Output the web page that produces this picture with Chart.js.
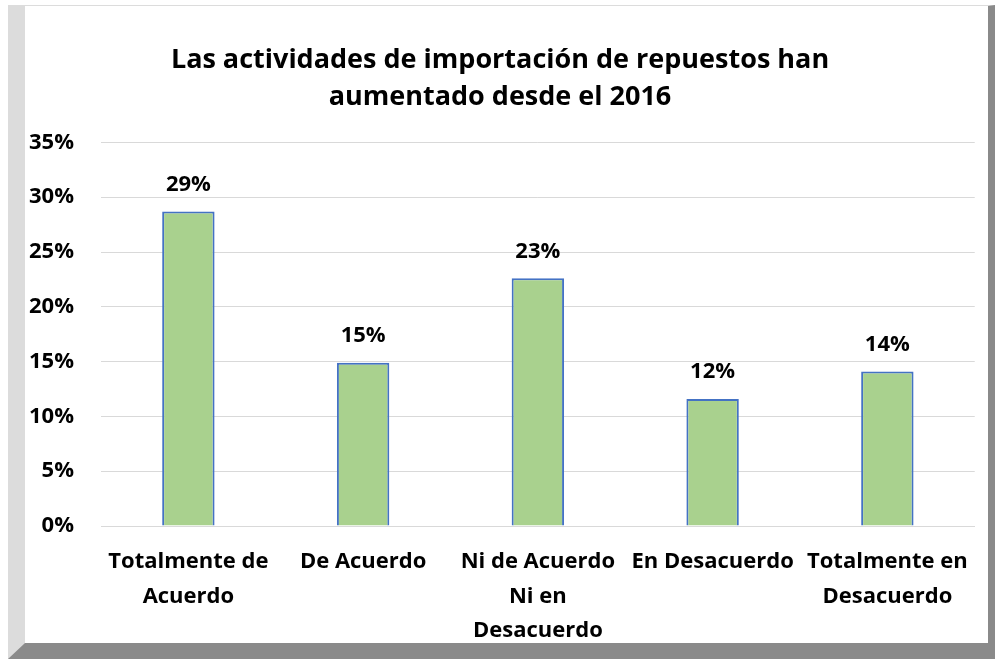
<!DOCTYPE html>
<html>
<head>
<meta charset="utf-8">
<script src="https://cdn.jsdelivr.net/npm/chart.js@4"></script>
<style>
  html, body { margin: 0; padding: 0; background: #fff; }
  .frame {
    position: absolute;
    left: 8px; top: 5px;
    width: 963px; height: 637px;
    border-top: 1px solid #dcdcdc;
    border-left: 17px solid #dcdcdc;
    border-right: 7px solid #8a8a8a;
    border-bottom: 16px solid #8a8a8a;
  }
  canvas { display: block; }
</style>
</head>
<body>
<div class="frame"><canvas id="chart" width="963" height="637"></canvas></div>
<script>
const categories = [
  ['Totalmente de', 'Acuerdo'],
  ['De Acuerdo'],
  ['Ni de Acuerdo', 'Ni en', 'Desacuerdo'],
  ['En Desacuerdo'],
  ['Totalmente en', 'Desacuerdo']
];
const percentages = [28.7, 14.9, 22.6, 11.6, 14.1];
const titleLines = ['Las actividades de importación de repuestos han', 'aumentado desde el 2016'];

const FONT = '"Open Sans", Lato, sans-serif';

// value labels above each bar
const valueLabels = {
  id: 'valueLabels',
  afterDatasetsDraw(chart) {
    const ctx = chart.ctx;
    const meta = chart.getDatasetMeta(0);
    ctx.save();
    ctx.font = 'bold 22px ' + FONT;
    ctx.fillStyle = '#000';
    ctx.textAlign = 'center';
    ctx.textBaseline = 'middle';
    meta.data.forEach((bar, i) => {
      ctx.fillText(Math.round(percentages[i]) + '%', bar.x, bar.y - 27);
    });
    ctx.restore();
  }
};

const chart = new Chart(document.getElementById('chart'), {
  type: 'bar',
  data: {
    labels: categories,
    datasets: [{
      data: percentages,
      backgroundColor: '#a9d18e',
      borderColor: '#4472c4',
      borderWidth: 2,
      barPercentage: 0.6,
      categoryPercentage: 0.5
    }]
  },
  options: {
    responsive: false,
    animation: false,
    layout: { padding: { left: 0, right: 13, top: 0, bottom: 0 } },
    plugins: {
      legend: { display: false },
      tooltip: { enabled: false },
      title: {
        display: true,
        text: titleLines,
        color: '#000',
        font: { family: FONT, size: 27, weight: 'bold', lineHeight: 1.36 },
        padding: { top: 36, bottom: 27 }
      }
    },
    scales: {
      x: {
        grid: { display: false, drawTicks: false },
        border: { display: true, color: '#d9d9d9' },
        ticks: {
          color: '#000',
          padding: 19,
          maxRotation: 0,
          autoSkip: false,
          font: { family: FONT, size: 22, weight: 'bold', lineHeight: 1.56 }
        },
        afterFit(scale) { scale.height = 117; }
      },
      y: {
        min: 0,
        max: 35,
        grid: { color: '#d9d9d9', drawTicks: false },
        border: { display: false },
        ticks: {
          stepSize: 5,
          color: '#000',
          padding: 27,
          font: { family: FONT, size: 22, weight: 'bold' },
          callback: v => v + '%'
        },
        afterFit(scale) { scale.width = 76; }
      }
    }
  },
  plugins: [valueLabels]
});
</script>
</body>
</html>
